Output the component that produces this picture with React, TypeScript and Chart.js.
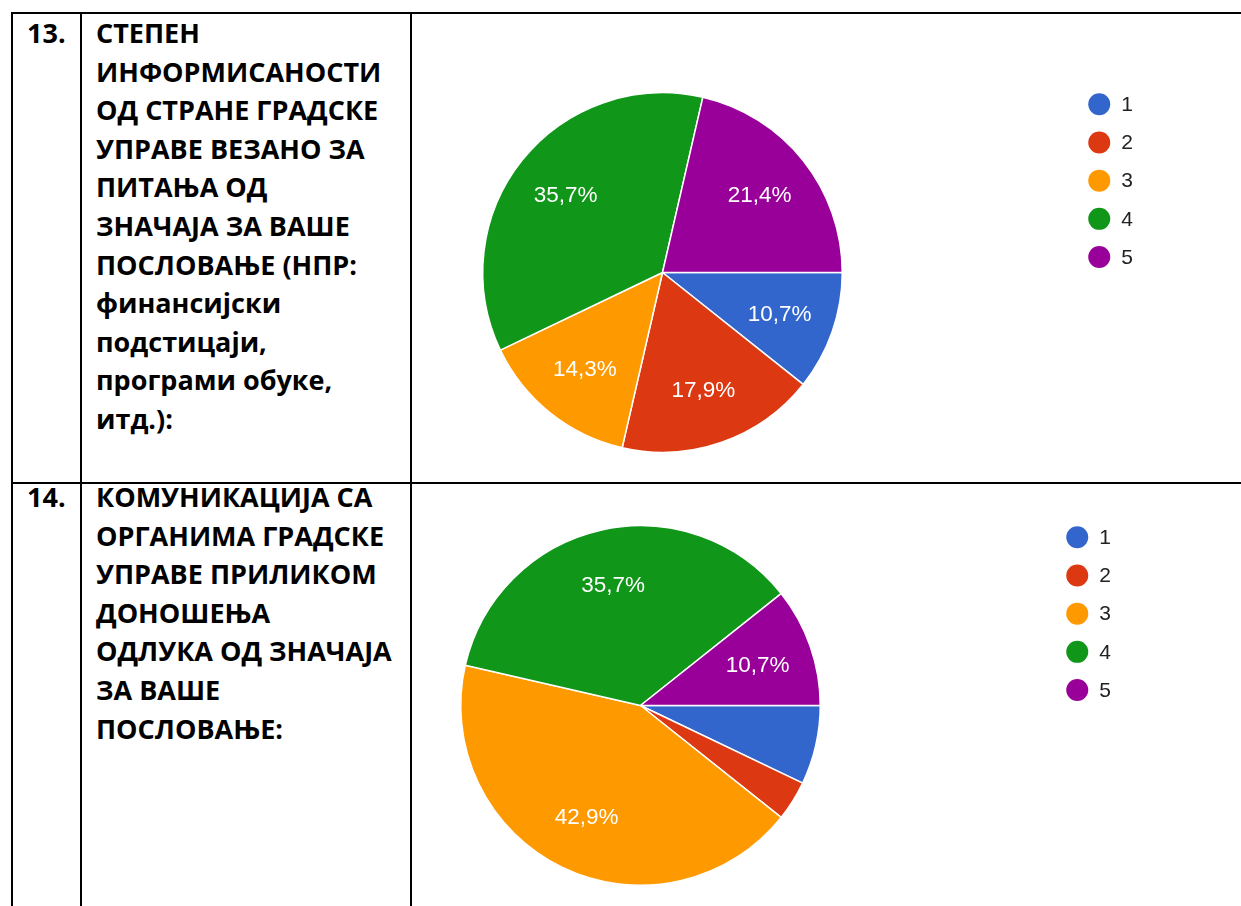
import React, { useEffect, useRef } from "react";
import { Chart, registerables } from "chart.js";

Chart.register(...registerables);

// ---- data ----
const legendLabels = ["1", "2", "3", "4", "5"];
const sliceColors = ["#3366CC", "#DC3912", "#FF9900", "#109618", "#990099"];
const q13Values = [10.7, 17.9, 14.3, 35.7, 21.4];
const q14Values = [7.1, 3.6, 42.9, 35.7, 10.7];

const q13Number = "13.";
const q13Lines = [
  "СТЕПЕН",
  "ИНФОРМИСАНОСТИ",
  "ОД СТРАНЕ ГРАДСКЕ",
  "УПРАВЕ ВЕЗАНО ЗА",
  "ПИТАЊА ОД",
  "ЗНАЧАЈА ЗА ВАШЕ",
  "ПОСЛОВАЊЕ (НПР:",
  "финансијски",
  "подстицаји,",
  "програми обуке,",
  "итд.):",
];
const q14Number = "14.";
const q14Lines = [
  "КОМУНИКАЦИЈА СА",
  "ОРГАНИМА ГРАДСКЕ",
  "УПРАВЕ ПРИЛИКОМ",
  "ДОНОШЕЊА",
  "ОДЛУКА ОД ЗНАЧАЈА",
  "ЗА ВАШЕ",
  "ПОСЛОВАЊЕ:",
];

const LABEL_FONT = "22.5px 'Liberation Sans', Arial, sans-serif";
const LEGEND_FONT = "21px 'Liberation Sans', Arial, sans-serif";

const sliceLabelPlugin = {
  id: "sliceLabels",
  afterDatasetsDraw(chart: any) {
    const ctx = chart.ctx;
    const meta = chart.getDatasetMeta(0);
    const data: number[] = chart.data.datasets[0].data;
    const total = data.reduce((a, b) => a + b, 0);
    ctx.save();
    ctx.font = LABEL_FONT;
    ctx.fillStyle = "#ffffff";
    ctx.textAlign = "center";
    ctx.textBaseline = "middle";
    meta.data.forEach((arc: any, i: number) => {
      const p = arc.getProps(["x", "y", "startAngle", "endAngle", "outerRadius"], true);
      const txt = ((data[i] / total) * 100).toFixed(1).replace(".", ",") + "%";
      const r = p.outerRadius * 0.69;
      const span = p.endAngle - p.startAngle;
      const w = ctx.measureText(txt).width;
      if (span * r < w + 12) return;
      const mid = (p.startAngle + p.endAngle) / 2;
      ctx.fillText(txt, p.x + Math.cos(mid) * r, p.y + Math.sin(mid) * r + 1);
    });
    ctx.restore();
  },
};

const sideLegendPlugin = {
  id: "sideLegend",
  afterDraw(chart: any) {
    const ctx = chart.ctx;
    const meta = chart.getDatasetMeta(0);
    const arc = meta.data[0];
    if (!arc) return;
    const p = arc.getProps(["x", "y", "outerRadius"], true);
    const cx = p.x + p.outerRadius + 257;
    const top = p.y - p.outerRadius + 11.5;
    const labels: string[] = chart.data.labels;
    const colors: string[] = chart.data.datasets[0].backgroundColor;
    ctx.save();
    ctx.font = LEGEND_FONT;
    ctx.textAlign = "left";
    ctx.textBaseline = "middle";
    labels.forEach((lab, i) => {
      const y = top + i * 38.2;
      ctx.beginPath();
      ctx.arc(cx, y, 11, 0, Math.PI * 2);
      ctx.fillStyle = colors[i];
      ctx.fill();
      ctx.fillStyle = "#222222";
      ctx.fillText(lab, cx + 22, y + 1);
    });
    ctx.restore();
  },
};

type PieProps = {
  values: number[];
  left: number;
  top: number;
  width: number;
  height: number;
  padding: { left: number; top: number; right: number; bottom: number };
};

function PieChart({ values, left, top, width, height, padding }: PieProps) {
  const ref = useRef<HTMLCanvasElement | null>(null);
  useEffect(() => {
    if (!ref.current) return;
    const chart = new Chart(ref.current, {
      type: "pie",
      data: {
        labels: legendLabels,
        datasets: [
          {
            data: values,
            backgroundColor: sliceColors,
            borderColor: "#ffffff",
            borderWidth: 1.5,
          },
        ],
      },
      options: {
        animation: false,
        responsive: false,
        rotation: 90,
        layout: { padding },
        plugins: {
          legend: { display: false },
          tooltip: { enabled: false },
        },
      },
      plugins: [sliceLabelPlugin, sideLegendPlugin],
    });
    return () => chart.destroy();
  }, []);
  return (
    <canvas
      ref={ref}
      width={width}
      height={height}
      style={{ position: "absolute", left, top, width, height }}
    />
  );
}

const line = (l: number, t: number, w: number, h: number) => (
  <div style={{ position: "absolute", left: l, top: t, width: w, height: h, background: "#000" }} />
);

const textStyle: React.CSSProperties = {
  position: "absolute",
  fontFamily: "'Open Sans', sans-serif",
  fontWeight: 700,
  fontSize: 27,
  lineHeight: "38.6px",
  color: "#000",
  whiteSpace: "nowrap",
};

export default function App() {
  return (
    <div
      style={{
        position: "absolute",
        left: 0,
        top: 0,
        width: 1241,
        height: 906,
        overflow: "hidden",
        background: "#fff",
      }}
    >
      {line(11, 12, 1230, 2)}
      {line(11, 482, 1230, 2)}
      {line(11, 12, 2, 894)}
      {line(80, 12, 2, 894)}
      {line(410, 12, 2, 894)}

      <div style={{ ...textStyle, left: 27, top: 14 }}>{q13Number}</div>
      <div style={{ ...textStyle, left: 96, top: 14 }}>
        {q13Lines.map((s, i) => (
          <div key={i}>{s}</div>
        ))}
      </div>
      <div style={{ ...textStyle, left: 27, top: 478 }}>{q14Number}</div>
      <div style={{ ...textStyle, left: 96, top: 478 }}>
        {q14Lines.map((s, i) => (
          <div key={i}>{s}</div>
        ))}
      </div>

      <PieChart
        values={q13Values}
        left={412}
        top={14}
        width={829}
        height={468}
        padding={{ left: 70, top: 78, right: 398, bottom: 29 }}
      />
      <PieChart
        values={q14Values}
        left={412}
        top={484}
        width={829}
        height={422}
        padding={{ left: 48, top: 41, right: 420, bottom: 20 }}
      />
    </div>
  );
}
